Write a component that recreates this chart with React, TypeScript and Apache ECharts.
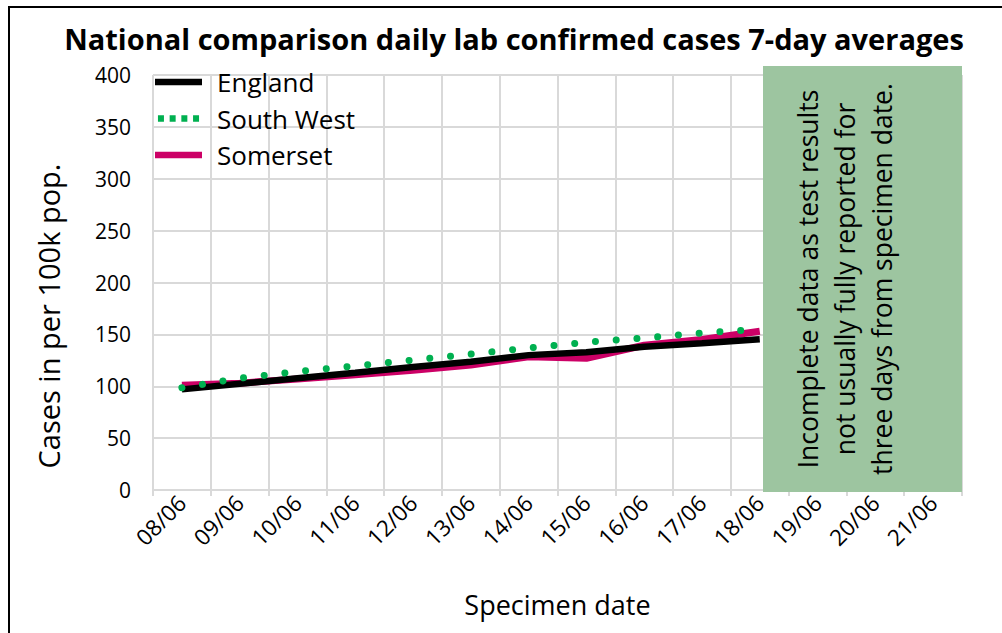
import React, { useEffect, useRef } from "react";
import * as echarts from "echarts";

const categories = ["08/06", "09/06", "10/06", "11/06", "12/06", "13/06", "14/06", "15/06", "16/06", "17/06", "18/06", "19/06", "20/06", "21/06"];
const england = [97, 102.4, 107.7, 113, 118.6, 123.7, 130, 132.7, 138, 141.4, 145.2];
const southWest = [98.6, 107.7, 114.2, 119.6, 125.3, 131, 136.9, 142.4, 146.5, 151.3, 154.9];
const somerset = [101, 103, 107, 111, 115.5, 120.5, 128.5, 127, 139.5, 145, 153];
const yTicks = [0, 50, 100, 150, 200, 250, 300, 350, 400];

const titleText = "National comparison daily lab confirmed cases 7-day averages";
const yTitle = "Cases in per 100k pop.";
const xTitle = "Specimen date";
const noteText = "Incomplete data as test results\nnot usually fully reported for\nthree days from specimen date.";
const FONT = "'Open Sans', 'Noto Sans', sans-serif";

const dottedIcon = "path://M0,0h6v6.5h-6z M11.7,0h6v6.5h-6z M23.4,0h6v6.5h-6z M35.1,0h6v6.5h-6z";

export default function App() {
  const ref = useRef<HTMLDivElement>(null);
  useEffect(() => {
    if (!ref.current) return;
    const chart = echarts.init(ref.current, undefined, { renderer: "svg" });
    chart.setOption({
      animation: false,
      backgroundColor: "#fff",
      textStyle: { fontFamily: FONT },
      title: {
        text: titleText,
        left: 509,
        top: 19,
        textAlign: "center",
        textStyle: { fontFamily: FONT, fontWeight: "bold", fontSize: 29, color: "#000" },
      },
      legend: {
        orient: "vertical",
        left: 150,
        top: 64,
        itemWidth: 47,
        itemHeight: 6.5,
        itemGap: 10.5,
        textStyle: { fontFamily: FONT, fontSize: 26, color: "#000", lineHeight: 26, padding: [0, 0, 0, 10] },
        data: [
          { name: "England", icon: "rect" },
          { name: "South West", icon: dottedIcon },
          { name: "Somerset", icon: "rect" },
        ],
      },
      grid: { left: 153, right: 40, top: 75, bottom: 143, containLabel: false },
      xAxis: {
        type: "category",
        data: categories,
        boundaryGap: true,
        name: xTitle,
        nameLocation: "middle",
        nameGap: 101,
        nameTextStyle: { fontFamily: FONT, fontSize: 27, color: "#000" },
        axisLine: { lineStyle: { color: "#d9d9d9", width: 2 } },
        axisTick: { show: true, length: 6, lineStyle: { color: "#d9d9d9", width: 2 } },
        axisLabel: { rotate: 45, fontFamily: FONT, fontSize: 22.5, color: "#000", margin: 9, interval: 0 },
        splitLine: { show: true, interval: 0, lineStyle: { color: "#d9d9d9", width: 2 } },
      },
      yAxis: {
        type: "value",
        min: yTicks[0],
        max: yTicks[yTicks.length - 1],
        interval: 50,
        axisLine: { show: false },
        axisTick: { show: false },
        axisLabel: { fontFamily: FONT, fontSize: 21, color: "#000", margin: 22 },
        splitLine: { show: true, lineStyle: { color: "#d9d9d9", width: 2 } },
      },
      series: [
        {
          name: "England",
          type: "line",
          data: england,
          symbol: "none",
          z: 3,
          lineStyle: { color: "#000", width: 6.5, cap: "butt" },
          itemStyle: { color: "#000" },
        },
        {
          name: "South West",
          type: "line",
          data: southWest,
          symbol: "none",
          z: 4,
          lineStyle: { color: "#00b050", width: 7, type: [0.01, 20.8], cap: "round" },
          itemStyle: { color: "#00b050" },
        },
        {
          name: "Somerset",
          type: "line",
          data: somerset,
          symbol: "none",
          z: 2,
          lineStyle: { color: "#cc0066", width: 7, cap: "butt" },
          itemStyle: { color: "#cc0066" },
        },
      ],
      graphic: [
        {
          type: "text",
          x: 48,
          y: 316,
          rotation: Math.PI / 2,
          style: {
            text: yTitle,
            fill: "#000",
            fontFamily: FONT,
            fontSize: 29,
            align: "center",
            verticalAlign: "middle",
          },
        },
        {
          type: "rect",
          z: 100,
          shape: { x: 763, y: 66, width: 199, height: 426 },
          style: { fill: "#9dc5a0" },
        },
        {
          type: "text",
          z: 101,
          x: 845,
          y: 279,
          rotation: Math.PI / 2,
          style: {
            text: noteText,
            fill: "#000",
            fontFamily: FONT,
            fontSize: 26.5,
            lineHeight: 37,
            align: "center",
            verticalAlign: "middle",
          },
        },
        {
          type: "polyline",
          z: 102,
          shape: { points: [[9, 633], [9, 7], [1002, 7]] },
          style: { stroke: "#000", lineWidth: 2, fill: "none" },
        },
      ],
    });
    return () => chart.dispose();
  }, []);
  return <div ref={ref} style={{ position: "absolute", left: 0, top: 0, width: 1002, height: 633 }} />;
}
